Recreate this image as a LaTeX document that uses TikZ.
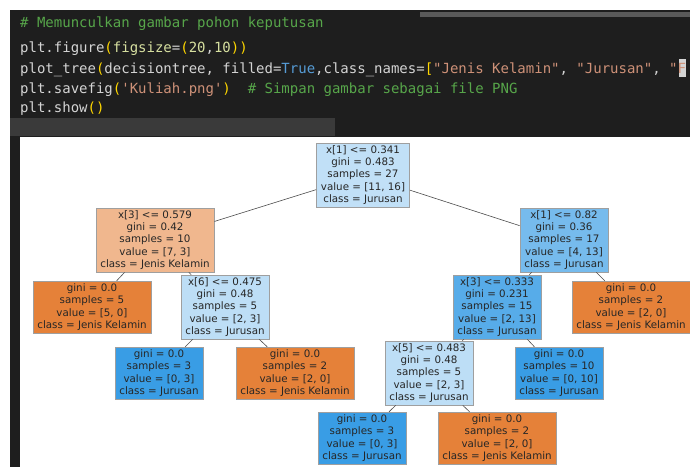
\documentclass[tikz,border=0pt]{standalone}
\usepackage{fontspec}
\setmainfont{DejaVu Sans}
\setmonofont{DejaVu Sans Mono}
\definecolor{codebg}{HTML}{1E1E1E}
\definecolor{codeband}{HTML}{3A3A3A}
\definecolor{topstrip}{HTML}{5A5A5A}
\definecolor{cmt}{HTML}{57A64A}
\definecolor{plain}{HTML}{D4D4D4}
\definecolor{paren}{HTML}{FFD700}
\definecolor{kw}{HTML}{569CD6}
\definecolor{str}{HTML}{CE9178}
\definecolor{num}{HTML}{D7E0A0}
\definecolor{croot}{RGB}{193,224,247}
\definecolor{cla}{RGB}{240,183,142}
\definecolor{cra}{RGB}{118,187,237}
\definecolor{corange}{RGB}{229,129,57}
\definecolor{cblue}{RGB}{57,157,229}
\definecolor{crl}{RGB}{87,172,233}
\definecolor{cmix}{RGB}{189,222,246}
\begin{document}
\begin{tikzpicture}[x=1pt,y=-1pt,
  codeline/.style={anchor=base west, inner sep=0pt, text=plain, font=\ttfamily\fontsize{14}{16}\selectfont},
  tnode/.style={draw=gray!75, line width=0.6pt, align=center, text=black!85,
    font=\fontsize{10.3}{12.3}\selectfont, inner xsep=4.5pt, inner ysep=2.5pt},
  tedge/.style={draw=gray!60!black, line width=0.6pt}]
\useasboundingbox (0,0) rectangle (690,467);
\clip (0,0) rectangle (690,467);
\fill[white] (0,0) rectangle (690,467);
% code cell
\fill[codebg] (10,10) rectangle (690,137);
\fill[codebg] (10,137) rectangle (20,467);
\fill[codeband] (10,118) rectangle (335,136);
\fill[topstrip] (420,12) rectangle (690,17);
\node[codeline] (c1) at (20,27) {\color{cmt}\# Memunculkan gambar pohon keputusan};
\node[codeline] (c2) at (20,52) {plt.figure{\color{paren}(}{\color{num}figsize}={\color{paren}(}{\color{num}20},{\color{num}10}{\color{paren}))}};
\fill[plain] (679,59) rectangle (686,77);
\node[codeline] (c3) at (20,73) {plot\_tree{\color{paren}(}decisiontree, filled={\color{kw}True},class\_names={\color{paren}[}{\color{str}"Jenis Kelamin"}, {\color{str}"Jurusan"}, {\color{str}"F}};
\node[codeline] (c4) at (20,93) {plt.savefig{\color{paren}(}{\color{str}'Kuliah.png'}{\color{paren})}~~{\color{cmt}\# Simpan gambar sebagai file PNG}};
\node[codeline] (c5) at (20,112) {plt.show{\color{paren}()}};
% tree
\node[tnode, fill=croot] (n0) at (363,175) {x[1] <= 0.341\\gini = 0.483\\samples = 27\\value = [11, 16]\\class = Jurusan};
\node[tnode, fill=cla] (n1) at (155,240) {x[3] <= 0.579\\gini = 0.42\\samples = 10\\value = [7, 3]\\class = Jenis Kelamin};
\node[tnode, fill=cra] (n2) at (564,240) {x[1] <= 0.82\\gini = 0.36\\samples = 17\\value = [4, 13]\\class = Jurusan};
\node[tnode, fill=corange] (n3) at (92,307) {gini = 0.0\\samples = 5\\value = [5, 0]\\class = Jenis Kelamin};
\node[tnode, fill=cmix] (n4) at (225,307) {x[6] <= 0.475\\gini = 0.48\\samples = 5\\value = [2, 3]\\class = Jurusan};
\node[tnode, fill=crl] (n5) at (497,307) {x[3] <= 0.333\\gini = 0.231\\samples = 15\\value = [2, 13]\\class = Jurusan};
\node[tnode, fill=corange] (n6) at (631,307) {gini = 0.0\\samples = 2\\value = [2, 0]\\class = Jenis Kelamin};
\node[tnode, fill=cblue] (n7) at (159,373) {gini = 0.0\\samples = 3\\value = [0, 3]\\class = Jurusan};
\node[tnode, fill=corange] (n8) at (295,373) {gini = 0.0\\samples = 2\\value = [2, 0]\\class = Jenis Kelamin};
\node[tnode, fill=cmix] (n9) at (429,373) {x[5] <= 0.483\\gini = 0.48\\samples = 5\\value = [2, 3]\\class = Jurusan};
\node[tnode, fill=cblue] (n10) at (559,373) {gini = 0.0\\samples = 10\\value = [0, 10]\\class = Jurusan};
\node[tnode, fill=cblue] (n11) at (362,438) {gini = 0.0\\samples = 3\\value = [0, 3]\\class = Jurusan};
\node[tnode, fill=corange] (n12) at (497,438) {gini = 0.0\\samples = 2\\value = [2, 0]\\class = Jenis Kelamin};
\foreach \a/\b in {n0/n1,n0/n2,n1/n3,n1/n4,n2/n5,n2/n6,n4/n7,n4/n8,n5/n9,n5/n10,n9/n11,n9/n12}
  \draw[tedge] (\a) -- (\b);
\end{tikzpicture}
\end{document}
